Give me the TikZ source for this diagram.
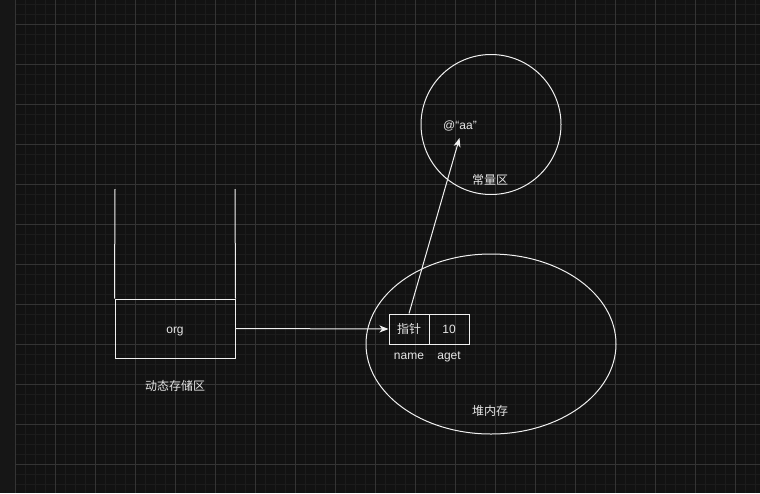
\documentclass[tikz,border=0pt]{standalone}
\usepackage{fontspec}
\setmainfont{Liberation Sans}
\newfontfamily\cjk{Noto Sans CJK SC}
\usetikzlibrary{arrows.meta,shapes.geometric}
\definecolor{bgc}{HTML}{121212}
\definecolor{stripc}{HTML}{161616}
\definecolor{minorc}{HTML}{1C1C1C}
\definecolor{majorc}{HTML}{343434}
\definecolor{linec}{HTML}{F0F0F0}
\definecolor{txtc}{HTML}{E6E6E6}
\tikzset{
  minorline/.style={draw=minorc, line width=0.8pt},
  majorline/.style={draw=majorc, line width=0.9pt},
  shapeline/.style={draw=linec, line width=1pt},
  txtstyle/.style={text=txtc, font=\fontsize{12}{14}\selectfont, text height=9pt, text depth=0pt},
  stackbox/.style={shapeline, txtstyle, minimum width=120pt, minimum height=59pt, inner sep=0pt},
  cellbox/.style={shapeline, txtstyle, minimum width=40pt, minimum height=30pt, inner sep=0pt},
  lbl/.style={txtstyle, inner sep=0pt},
  arr/.style={draw=linec, line width=1pt, -{Stealth[length=9pt,width=7pt,inset=2.5pt]}},
}
\begin{document}
\begin{tikzpicture}[x=1pt,y=-1pt]
\useasboundingbox (0,0) rectangle (760,493);
\fill[bgc] (0,0) rectangle (760,493);
\fill[stripc] (0,0) rectangle (14.5,493);
% minor grid
\foreach \x in {25,35,...,755} \draw[minorline] (\x,0) -- (\x,493);
\foreach \y in {4,14,...,490} \draw[minorline] (15,\y) -- (760,\y);
% major grid
\foreach \x in {15,55,...,735} \draw[majorline] (\x,0) -- (\x,493);
\foreach \y in {24,64,...,464} \draw[majorline] (15,\y) -- (760,\y);

% heap ellipse and constant circle
\node[shapeline, ellipse, minimum width=250pt, minimum height=180pt, inner sep=0pt] (heap) at (491,344) {};
\node[shapeline, circle, minimum size=140pt, inner sep=0pt] (const) at (491,124.5) {};

% stack
\node[stackbox] (org) at (175,328.5) {org};
\coordinate (lt) at (115,189);
\coordinate (rt) at (235,189);
\draw[shapeline] (lt) -- (org.north west);
\draw[shapeline] (rt) -- (org.north east);
\node[lbl] (stacklbl) at (175,385.5) {\cjk 动态存储区};

% heap cells
\node[cellbox] (p) at (409,329) {\cjk 指针};
\node[cellbox] (v) at (449,329) {10};
\node[lbl] (name) at (409,355) {name};
\node[lbl] (aget) at (449,355) {aget};
\node[lbl] (heaplbl) at (490,410.5) {\cjk 堆内存};

% constant area
\node[lbl] (aa) at (460,125) {@“aa”};
\node[lbl] (constlbl) at (490,180) {\cjk 常量区};
\coordinate (tip) at (459.5,138);

% connectors
\draw[arr] (org.east) -- (p.west);
\draw[arr] (p.north) -- (tip);
\end{tikzpicture}
\end{document}
